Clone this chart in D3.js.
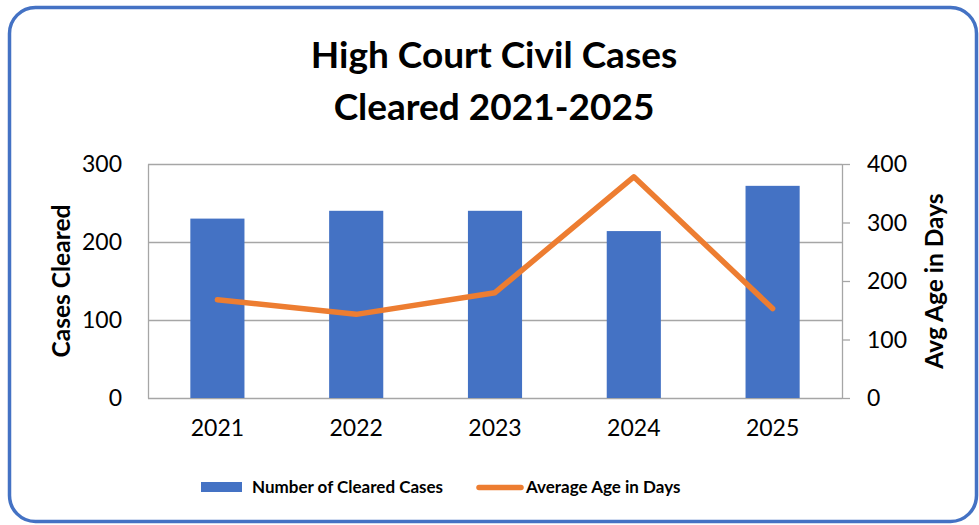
<!DOCTYPE html>
<html>
<head>
<meta charset="utf-8">
<script src="https://cdn.jsdelivr.net/npm/d3@7"></script>
<style>
html,body{margin:0;padding:0;background:#fff;}
text{font-family:Lato,"Open Sans",sans-serif;fill:#000;}
</style>
</head>
<body>
<script>
const years = ["2021","2022","2023","2024","2025"];
const clearedCases = [230, 240, 240, 214, 272];
const avgAgeDays = [168, 143, 180, 378, 153];
const leftTicks = [0, 100, 200, 300];
const rightTicks = [0, 100, 200, 300, 400];
const titleLines = ["High Court Civil Cases", "Cleared 2021-2025"];
const seriesNames = ["Number of Cleared Cases", "Average Age in Days"];

const W = 979, H = 525;
const svg = d3.select("body").append("svg").attr("width", W).attr("height", H);

svg.append("rect").attr("x", 9.5).attr("y", 7.5).attr("width", 967).attr("height", 514)
  .attr("rx", 26).attr("fill", "#fff").attr("stroke", "#4472C4").attr("stroke-width", 3.5);

const m = {l:148, r:842, t:164, b:398};
const x = d3.scaleBand().domain(years).range([m.l, m.r]).paddingInner(0.61).paddingOuter(0.305);
const xc = d3.scaleBand().domain(years).range([m.l, m.r]);
const yL = d3.scaleLinear().domain([0, 300]).range([m.b, m.t]);
const yR = d3.scaleLinear().domain([0, 400]).range([m.b, m.t]);
const grid = "#A6A6A6";

// gridlines
svg.append("g").selectAll("line").data(leftTicks).join("line")
  .attr("x1", m.l).attr("x2", m.r).attr("y1", d => Math.round(yL(d)) + 0.5).attr("y2", d => Math.round(yL(d)) + 0.5)
  .attr("stroke", grid).attr("stroke-width", 1.3);

// left axis
const gl = svg.append("g").attr("transform", `translate(${m.l},0)`)
  .call(d3.axisLeft(yL).tickValues(leftTicks).tickSize(0).tickPadding(26));
gl.select(".domain").attr("stroke", grid).attr("stroke-width", 1.3);
gl.selectAll("text").style("font-size", "23px").attr("dy", "0.34em");

// right axis
const gr = svg.append("g").attr("transform", `translate(${m.r},0)`)
  .call(d3.axisRight(yR).tickValues(rightTicks).tickSizeInner(8).tickSizeOuter(0).tickPadding(17));
gr.select(".domain").attr("stroke", grid).attr("stroke-width", 1.3);
gr.selectAll("line").attr("stroke", grid).attr("stroke-width", 1.3);
gr.selectAll("text").style("font-size", "23px").attr("dy", "0.34em");

// x axis labels
const gx = svg.append("g").attr("transform", `translate(0,${m.b})`)
  .call(d3.axisBottom(xc).tickSize(0).tickPadding(26));
gx.select(".domain").remove();
gx.selectAll("text").style("font-size", "23px").attr("dy", "0.5em");

// bars
svg.append("g").selectAll("rect").data(clearedCases).join("rect")
  .attr("x", (d, i) => x(years[i])).attr("width", x.bandwidth())
  .attr("y", d => yL(d)).attr("height", d => yL(0) - yL(d))
  .attr("fill", "#4472C4");

// line
const line = d3.line().x((d, i) => xc(years[i]) + xc.bandwidth() / 2).y(d => yR(d));
svg.append("path").datum(avgAgeDays).attr("d", line)
  .attr("fill", "none").attr("stroke", "#ED7D31").attr("stroke-width", 5.5)
  .attr("stroke-linecap", "round").attr("stroke-linejoin", "round");

// title
svg.append("g").selectAll("text").data(titleLines).join("text")
  .attr("x", 494).attr("y", (d, i) => 68 + i * 52).attr("text-anchor", "middle")
  .style("font-size", "37px").style("font-weight", "700").text(d => d);

// axis titles
svg.append("text").attr("transform", `translate(70,281) rotate(-90)`).attr("text-anchor", "middle")
  .style("font-size", "24.5px").style("font-weight", "700").text("Cases Cleared");
svg.append("text").attr("transform", `translate(943,281) rotate(-90)`).attr("text-anchor", "middle")
  .style("font-size", "24.5px").style("font-weight", "700").text("Avg Age in Days");

// legend
const lg = svg.append("g");
lg.append("rect").attr("x", 201).attr("y", 482).attr("width", 41).attr("height", 10).attr("fill", "#4472C4");
lg.append("text").attr("x", 252).attr("y", 493).style("font-size", "17px").style("font-weight", "700").text(seriesNames[0]);
lg.append("line").attr("x1", 479).attr("x2", 521).attr("y1", 487.5).attr("y2", 487.5)
  .attr("stroke", "#ED7D31").attr("stroke-width", 5.5).attr("stroke-linecap", "round");
lg.append("text").attr("x", 526).attr("y", 493).style("font-size", "17px").style("font-weight", "700").text(seriesNames[1]);
</script>
</body>
</html>
